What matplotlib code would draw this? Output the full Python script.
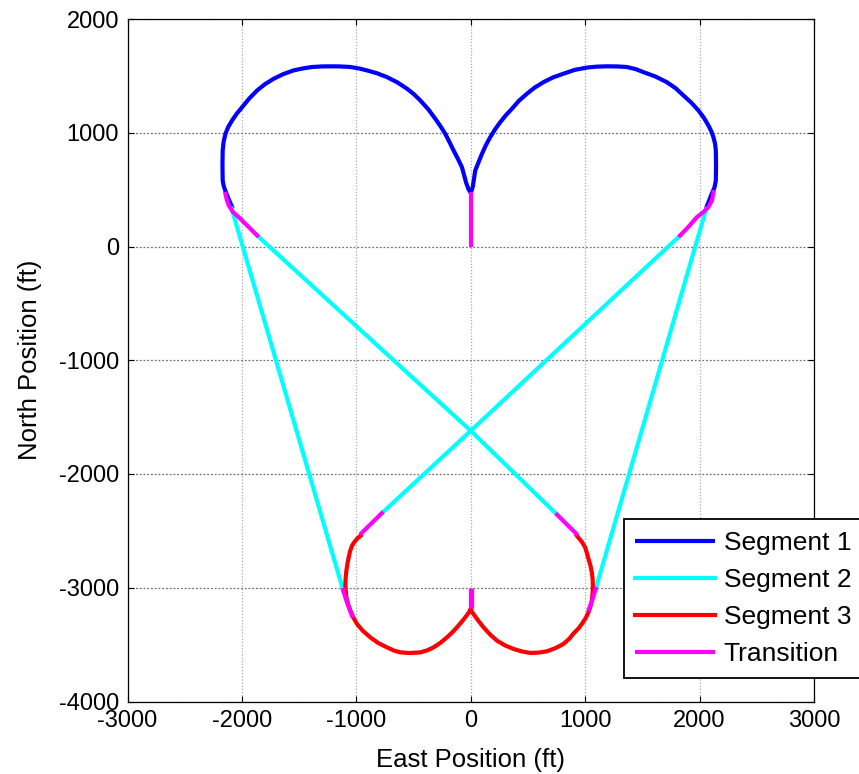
import matplotlib
matplotlib.use("Agg")
import matplotlib.pyplot as plt

plt.rcParams['font.family'] = ['Liberation Sans', 'DejaVu Sans']
plt.rcParams['axes.unicode_minus'] = False

# ---- Segment 1 (upper lobes), east / north in ft ----
seg1_left_east = [0, -20, -40, -77, -112, -150, -186, -223, -265, -310, -372, -441,
                  -497, -557, -640, -732, -820, -907, -980, -1052, -1140, -1220,
                  -1300, -1387, -1470, -1548, -1640, -1722, -1800, -1867, -1935,
                  -1998, -2045, -2086, -2120, -2144, -2160, -2168, -2170, -2168,
                  -2160, -2145, -2129, -2105, -2080]
seg1_left_north = [470, 505, 560, 697, 770, 844, 918, 991, 1058, 1123, 1207, 1284,
                   1339, 1387, 1442, 1489, 1523, 1548, 1566, 1578, 1583, 1584,
                   1583, 1578, 1565, 1548, 1515, 1475, 1426, 1372, 1302,
                   1225, 1168, 1108, 1050, 991, 920, 844, 720, 580,
                   535, 490, 449, 390, 335]
seg1_right_east = [0, 18, 39, 98, 132, 170, 212, 258, 306, 360, 420, 491, 560, 636,
                   720, 810, 910, 1015, 1100, 1190, 1280, 1364, 1440, 1509, 1615,
                   1713, 1790, 1859, 1928, 1990, 2038, 2077, 2103, 2121, 2135, 2142,
                   2144, 2142, 2130, 2106, 2082, 2055]
seg1_right_north = [470, 525, 668, 815, 890, 961, 1029, 1093, 1153, 1211, 1280, 1343,
                    1398, 1445, 1487, 1519, 1553, 1573, 1581, 1584, 1583, 1578, 1560,
                    1533, 1494, 1445, 1392, 1328, 1264, 1196, 1131, 1064, 1012, 961,
                    905, 844, 710, 580, 518, 463, 400, 335]

# ---- Segment 2 (straight legs) ----
seg2_steep_left_east = [-2090, -1116]
seg2_steep_left_north = [334, -3020]
seg2_steep_right_east = [2058, 1092]
seg2_steep_right_north = [331, -3010]
seg2_cross_a_east = [-1867, 0, 755]
seg2_cross_a_north = [97, -1620, -2358]
seg2_cross_b_east = [1830, 0, -778]
seg2_cross_b_north = [97, -1620, -2345]

# ---- Segment 3 (lower lobes) ----
seg3_left_east = [-962, -990, -1015, -1038, -1055, -1067, -1078, -1087, -1093, -1096,
                  -1093, -1087, -1072, -1052, -1026, -994, -942, -878, -810, -732,
                  -672, -616, -530, -441, -380, -325, -265, -208, -162, -121, -82,
                  -48, -20, 0]
seg3_left_north = [-2542, -2565, -2595, -2630, -2680, -2733, -2790, -2850, -2910, -2967,
                   -3025, -3084, -3145, -3201, -3262, -3318, -3380, -3436, -3485, -3524,
                   -3552, -3568, -3574, -3568, -3550, -3524, -3484, -3436, -3393, -3348,
                   -3303, -3260, -3222, -3192]
seg3_right_east = [0, 24, 66, 112, 168, 229, 300, 374, 446, 520, 592, 665, 740, 810,
                   860, 900, 940, 971, 1003, 1029, 1046, 1058, 1065, 1067, 1065, 1058,
                   1046, 1029, 1016, 1000, 970, 945, 927]
seg3_right_north = [-3192, -3231, -3290, -3348, -3410, -3465, -3507, -3538, -3560,
                    -3573, -3570, -3559, -3531, -3494, -3450, -3400, -3360, -3318,
                    -3270, -3216, -3165, -3113, -3050, -2982, -2920, -2865, -2805,
                    -2747, -2698, -2645, -2595, -2565, -2542]

# ---- Transitions ----
trans_start_east = [0, 0]
trans_start_north = [0, 478]
trans_top_left_east = [-2144, -2132, -2115, -2080, -2028, -1950, -1867]
trans_top_left_north = [463, 410, 361, 305, 258, 180, 97]
trans_top_right_east = [2121, 2110, 2077, 2030, 1976, 1900, 1830]
trans_top_right_north = [478, 410, 346, 300, 258, 170, 97]
trans_low_left_east = [-1116, -1080, -1038]
trans_low_left_north = [-3020, -3135, -3245]
trans_low_right_east = [1092, 1065, 1032]
trans_low_right_north = [-3010, -3100, -3190]
trans_mid_left_east = [-778, -955]
trans_mid_left_north = [-2345, -2520]
trans_mid_right_east = [755, 922]
trans_mid_right_north = [-2358, -2525]
trans_bottom_east = [0, 0]
trans_bottom_north = [-3000, -3182]

x_ticks = [-3000, -2000, -1000, 0, 1000, 2000, 3000]
y_ticks = [-4000, -3000, -2000, -1000, 0, 1000, 2000]

legend_labels = ['Segment 1', 'Segment 2', 'Segment 3', 'Transition']

W, H = 859, 774
fig = plt.figure(figsize=(W / 100, H / 100), dpi=100)
ax = fig.add_axes([127.5 / W, 1 - 701.5 / H, (814 - 127.5) / W, (701.5 - 19) / H])

lw = 3.0
blue, cyan, red, mag = (0, 0, 1), (0, 1, 1), (1, 0, 0), (1, 0, 1)

h1, = ax.plot(seg1_left_east, seg1_left_north, color=blue, lw=lw, solid_capstyle='butt')
ax.plot(seg1_right_east, seg1_right_north, color=blue, lw=lw, solid_capstyle='butt')

h2, = ax.plot(seg2_steep_left_east, seg2_steep_left_north, color=cyan, lw=lw)
ax.plot(seg2_steep_right_east, seg2_steep_right_north, color=cyan, lw=lw)
ax.plot(seg2_cross_a_east, seg2_cross_a_north, color=cyan, lw=lw)
ax.plot(seg2_cross_b_east, seg2_cross_b_north, color=cyan, lw=lw)

h3, = ax.plot(seg3_left_east, seg3_left_north, color=red, lw=lw)
ax.plot(seg3_right_east, seg3_right_north, color=red, lw=lw)

h4, = ax.plot(trans_start_east, trans_start_north, color=mag, lw=lw, solid_capstyle='butt')
for ex, ny in [(trans_top_left_east, trans_top_left_north),
               (trans_top_right_east, trans_top_right_north),
               (trans_low_left_east, trans_low_left_north),
               (trans_low_right_east, trans_low_right_north),
               (trans_mid_left_east, trans_mid_left_north),
               (trans_mid_right_east, trans_mid_right_north)]:
    ax.plot(ex, ny, color=mag, lw=lw)
ax.plot(trans_bottom_east, trans_bottom_north, color=mag, lw=lw + 0.8, solid_capstyle='butt')

ax.set_xlim(-3000, 3000)
ax.set_ylim(-4000, 2000)
ax.set_xticks(x_ticks)
ax.set_yticks(y_ticks)
ax.tick_params(direction='in', length=4, width=0.8, labelsize=17,
               top=True, right=True, pad=6)
for s in ax.spines.values():
    s.set_linewidth(0.9)
    s.set_color('black')

ax.xaxis.grid(True, linestyle=(0, (1, 1.5)), color='#a8a8a8', linewidth=0.9)
ax.yaxis.grid(True, linestyle=(0, (1.5, 1.5)), color='#707070', linewidth=0.9)
ax.set_axisbelow(True)

ax.set_xlabel('East Position (ft)', fontsize=18.5, labelpad=12)
ax.set_ylabel('North Position (ft)', fontsize=18.5, labelpad=12)

leg = ax.legend([h1, h2, h3, h4], legend_labels, loc='upper left',
                bbox_to_anchor=(623.5 / W, 1 - 519 / H), bbox_transform=fig.transFigure,
                borderaxespad=0, fontsize=19, frameon=True, fancybox=False,
                framealpha=1, edgecolor='black', handlelength=3.0,
                handletextpad=0.35, borderpad=0.45, labelspacing=0.5)
leg.get_frame().set_linewidth(1.3)
for line in leg.get_lines():
    line.set_linewidth(3)

fig.savefig('out.png', dpi=100)
